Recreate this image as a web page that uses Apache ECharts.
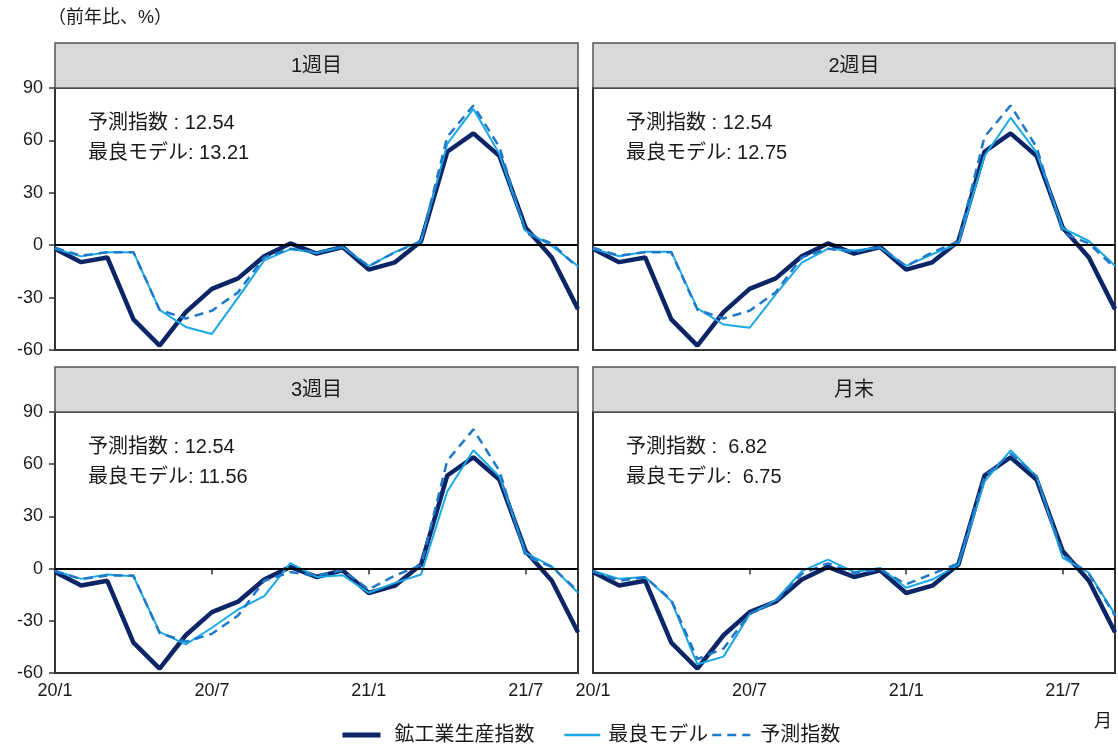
<!DOCTYPE html>
<html>
<head>
<meta charset="utf-8">
<script src="https://cdn.jsdelivr.net/npm/echarts@6/dist/echarts.min.js"></script>
<style>
  html, body { margin: 0; padding: 0; background: #fff; }
  #chart { width: 1118px; height: 747px; }
</style>
</head>
<body>
<div id="chart"></div>
<script>
// Months on the horizontal axis (20/1 .. 21/9)
const months = ['20/1','20/2','20/3','20/4','20/5','20/6','20/7','20/8','20/9','20/10','20/11','20/12',
                '21/1','21/2','21/3','21/4','21/5','21/6','21/7','21/8','21/9'];

// Panel headings
const panelNames = ['1週目', '2週目', '3週目', '月末'];

// Series names (legend order)
const seriesNames = ['鉱工業生産指数', '最良モデル', '予測指数'];

// 鉱工業生産指数 (year-on-year, %)
const actual = [-2, -9.7, -7, -42.5, -57.5, -38.3, -25, -19, -6.3, 1, -4.8, -1,
                -14, -9.8, 2.3, 53.5, 64, 51, 10, -7, -36.6];

// 最良モデル for each release timing
const bestWeek1 = [-2, -6.4, -4, -4, -37, -46.8, -50.8, -30, -8.7, -2.2, -4.5, -1,
                   -12, -4, 2.5, 58, 78, 52, 8.2, -0.5, -12];
const bestWeek2 = [-2, -6.3, -3.8, -3.8, -36.2, -45.4, -47.3, -28.2, -10, -2.1, -3, -1.3,
                   -11.8, -5.2, 1, 51, 73, 53, 9.7, 2.4, -11.8];
const bestWeek3 = [-1.2, -5.9, -3.4, -4.4, -36.4, -43.5, -34, -23.5, -15.8, 3.2, -4.8, -3.8,
                   -13.9, -8.2, -3.4, 44.3, 68, 52.8, 9, 1.3, -13.9];
const bestMonthEnd = [-1.2, -5.9, -4.8, -18.7, -55, -50.6, -26.3, -18.1, -1.5, 5.2, -1.9, 0.4,
                      -11, -6.3, 2.3, 50, 68, 52.8, 6.1, -2.5, -26.3];

// 予測指数 (same for weeks 1-3, separate for month end)
const forecastWeekly = [-1.5, -6, -4, -4, -37, -42, -37.5, -27, -7, -2, -4, -1,
                        -12, -4, 2, 62, 80, 56, 7, 1, -13];
const forecastMonthEnd = [-1.5, -7, -5, -18, -52, -46, -26, -19, -3, 3, -2.5, -0.5,
                          -9, -3, 3, 53, 66, 53, 8, -3, -27];

// Error statistics shown in each panel
const statForecast = [12.54, 12.54, 12.54, 6.82];
const statBest = [13.21, 12.75, 11.56, 6.75];

// Axis ticks
const yMin = -60, yMax = 90, yStep = 30;
const xLabelEvery = 6;

const bestByPanel = [bestWeek1, bestWeek2, bestWeek3, bestMonthEnd];
const forecastByPanel = [forecastWeekly, forecastWeekly, forecastWeekly, forecastMonthEnd];

const FONT = "'Liberation Sans', 'Noto Sans CJK JP', sans-serif";
const C_ACTUAL = '#0b2566';
const C_BEST = '#1aa9e6';
const C_FORECAST = '#1f78c8';
const C_TEXT = '#1a1a1a';

// panel geometry
const cols = [{ left: 55, width: 523 }, { left: 593, width: 522 }];
const rows = [{ stripTop: 43, top: 88, height: 262 }, { stripTop: 367, top: 412, height: 261 }];

const grids = [], xAxes = [], yAxes = [], series = [], graphics = [];

// value with a leading space so single-digit numbers line up with two-digit ones
function fmtStat(v) {
  const s = v.toFixed(2);
  return s.length < 5 ? ' ' + s : s;
}

panelNames.forEach((name, i) => {
  const col = cols[i % 2];
  const row = rows[Math.floor(i / 2)];
  const showY = i % 2 === 0;
  const showX = i >= 2;

  grids.push({
    left: col.left, top: row.top, width: col.width, height: row.height,
    show: true, borderColor: '#333', borderWidth: 2, backgroundColor: '#fff',
    containLabel: false
  });

  xAxes.push({
    type: 'category', gridIndex: i, data: months, boundaryGap: false,
    axisLine: { show: false },
    axisTick: { show: showX, interval: xLabelEvery - 1, length: 6, lineStyle: { color: '#333', width: 1.5 } },
    axisLabel: { show: showX, interval: xLabelEvery - 1, color: C_TEXT, fontSize: 18, fontFamily: FONT, margin: 9,
      formatter: (v, idx) => idx === months.length - 1 ? '' : v },
    splitLine: { show: false }
  });

  yAxes.push({
    type: 'value', gridIndex: i, min: yMin, max: yMax, interval: yStep,
    axisLine: { show: false },
    axisTick: { show: showY, length: 6, lineStyle: { color: '#333', width: 1.5 } },
    axisLabel: { show: showY, color: C_TEXT, fontSize: 18, fontFamily: FONT, margin: 12 },
    splitLine: { show: false }
  });

  series.push({
    name: seriesNames[0], type: 'line', xAxisIndex: i, yAxisIndex: i,
    data: actual, symbol: 'none',
    lineStyle: { color: C_ACTUAL, width: 4.5 }, itemStyle: { color: C_ACTUAL },
    z: 2,
    markLine: {
      silent: true, symbol: 'none', label: { show: false },
      lineStyle: { color: '#000', width: 2, type: 'solid' },
      data: [{ yAxis: 0 }], z: 5
    }
  });
  series.push({
    name: seriesNames[1], type: 'line', xAxisIndex: i, yAxisIndex: i,
    data: bestByPanel[i], symbol: 'none',
    lineStyle: { color: C_BEST, width: 2 }, itemStyle: { color: C_BEST }, z: 3
  });
  series.push({
    name: seriesNames[2], type: 'line', xAxisIndex: i, yAxisIndex: i,
    data: forecastByPanel[i], symbol: 'none',
    lineStyle: { color: C_FORECAST, width: 2.5, type: [9, 6] }, itemStyle: { color: C_FORECAST }, z: 4
  });

  // strip header
  graphics.push({
    type: 'rect', z: 10,
    shape: { x: col.left, y: row.stripTop, width: col.width, height: row.top - row.stripTop },
    style: { fill: '#d9d9d9', stroke: '#555', lineWidth: 1.5 }
  });
  graphics.push({
    type: 'text', z: 11,
    x: col.left + col.width / 2, y: (row.stripTop + row.top) / 2 + 1,
    style: { text: name, fill: C_TEXT, fontSize: 20, fontFamily: FONT, align: 'center', verticalAlign: 'middle' }
  });

  // statistics
  graphics.push({
    type: 'text', z: 11,
    x: col.left + 33, y: row.top + 35,
    style: { text: '予測指数 : ' + fmtStat(statForecast[i]), fill: C_TEXT, fontSize: 20, fontFamily: FONT,
      align: 'left', verticalAlign: 'middle' }
  });
  graphics.push({
    type: 'text', z: 11,
    x: col.left + 33, y: row.top + 65,
    style: { text: '最良モデル: ' + fmtStat(statBest[i]), fill: C_TEXT, fontSize: 20, fontFamily: FONT,
      align: 'left', verticalAlign: 'middle' }
  });
});

// unit caption and month marker
graphics.push({
  type: 'text', x: 48, y: 18,
  style: { text: '（前年比、%）', fill: C_TEXT, fontSize: 18, fontFamily: FONT, align: 'left', verticalAlign: 'middle' }
});
graphics.push({
  type: 'text', x: 1112, y: 722,
  style: { text: '月', fill: C_TEXT, fontSize: 18, fontFamily: FONT, align: 'right', verticalAlign: 'middle' }
});

// one legend block per series so each entry sits at its own spot
const legendLefts = [340, 563, 711];
const legendIconWidths = [38, 36, 38];
const legendTextGaps = [9, 3, 5];
const legendWidths = [5, 2.5, 2.5];
const legends = seriesNames.map((n, k) => ({
  data: [n],
  left: legendLefts[k], top: 725, padding: 0,
  itemWidth: legendIconWidths[k], itemHeight: 18,
  itemStyle: { opacity: 0 },
  lineStyle: { width: legendWidths[k] },
  textStyle: { color: C_TEXT, fontSize: 20, fontFamily: FONT, padding: [0, 0, 0, legendTextGaps[k]] },
  selectedMode: false
}));

const chart = echarts.init(document.getElementById('chart'), null, { renderer: 'canvas' });
chart.setOption({
  animation: false,
  backgroundColor: '#fff',
  grid: grids,
  xAxis: xAxes,
  yAxis: yAxes,
  series: series,
  graphic: graphics,
  legend: legends
});
</script>
</body>
</html>
